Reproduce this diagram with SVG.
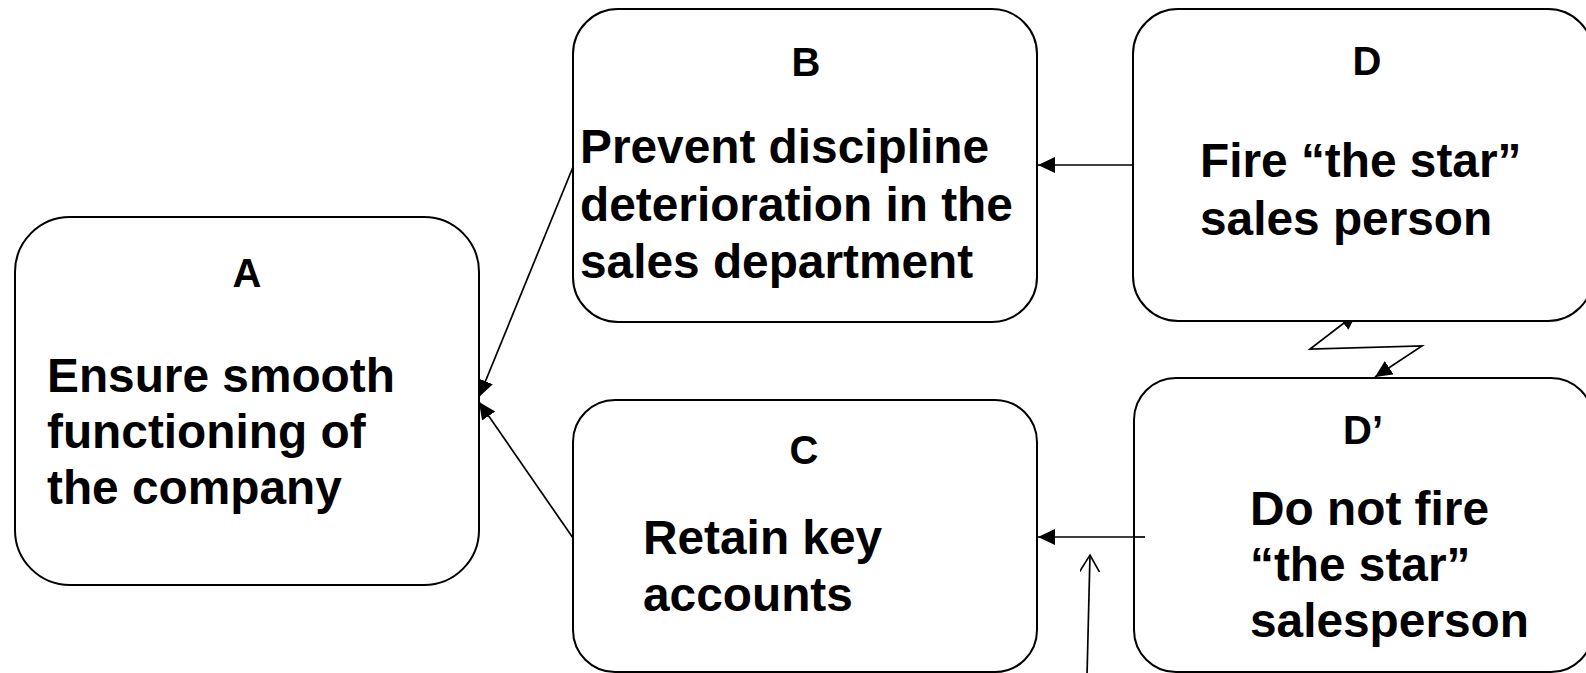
<svg xmlns="http://www.w3.org/2000/svg" width="1586" height="673" viewBox="0 0 1586 673">
<style>
.box{fill:#fff;stroke:#000;stroke-width:2}
.lbl{font-family:"Liberation Sans",Arial,sans-serif;font-weight:bold;font-size:40px;text-anchor:middle;fill:#000}
.txt{font-family:"Liberation Sans",Arial,sans-serif;font-weight:bold;font-size:47.8px;fill:#000}
.con{fill:none;stroke:#000;stroke-width:1.7}
</style>
<defs>
<marker id="ah" markerUnits="userSpaceOnUse" markerWidth="20" markerHeight="18" refX="17" refY="8" orient="auto-start-reverse" viewBox="0 0 20 18">
<path d="M0,0 L17,8 L0,16 z" fill="#000"/>
</marker>
<marker id="open" markerUnits="userSpaceOnUse" markerWidth="20" markerHeight="24" refX="17" refY="10" orient="auto" viewBox="0 0 20 24">
<path d="M0,0 L17,10 L0,20" fill="none" stroke="#000" stroke-width="1.6"/>
</marker>
</defs>
<rect width="1586" height="673" fill="#fff"/>
<g id="connectors">
<line class="con" x1="573" y1="167" x2="479" y2="397" marker-end="url(#ah)"/>
<line class="con" x1="573" y1="538" x2="479" y2="402" marker-end="url(#ah)"/>
<line class="con" x1="1133" y1="165" x2="1038" y2="165" marker-end="url(#ah)"/>
<line class="con" x1="1145" y1="537" x2="1038" y2="537" marker-end="url(#ah)"/>
<path class="con" d="M1357,313 L1310,349 L1422,346 L1375,377" marker-start="url(#ah)" marker-end="url(#ah)"/>
<line class="con" x1="1087" y1="676" x2="1090" y2="555" marker-end="url(#open)"/>
</g>
<g id="nodeA">
<rect class="box" x="15" y="217" width="464" height="368" rx="55" ry="55"/>
<text class="lbl" x="247" y="287">A</text>
<text class="txt" x="47" y="392">Ensure smooth</text>
<text class="txt" x="47" y="448">functioning of</text>
<text class="txt" x="47" y="504">the company</text>
</g>
<g id="nodeB">
<rect class="box" x="573" y="9" width="464" height="313" rx="45" ry="45"/>
<text class="lbl" x="806" y="76">B</text>
<text class="txt" x="580" y="163">Prevent discipline</text>
<text class="txt" x="580" y="221">deterioration in the</text>
<text class="txt" x="580" y="278">sales department</text>
</g>
<g id="nodeD">
<rect class="box" x="1133" y="9" width="460" height="312" rx="45" ry="45"/>
<text class="lbl" x="1367" y="75">D</text>
<text class="txt" x="1200" y="177">Fire “the star”</text>
<text class="txt" x="1200" y="235">sales person</text>
</g>
<g id="nodeC">
<rect class="box" x="573" y="400" width="464" height="272" rx="42" ry="42"/>
<text class="lbl" x="804" y="464">C</text>
<text class="txt" x="643" y="554">Retain key</text>
<text class="txt" x="643" y="611">accounts</text>
</g>
<g id="nodeDp">
<rect class="box" x="1134" y="378" width="459" height="294" rx="42" ry="42"/>
<text class="lbl" x="1363" y="444">D’</text>
<text class="txt" x="1250" y="525">Do not fire</text>
<text class="txt" x="1250" y="581">“the star”</text>
<text class="txt" x="1250" y="637">salesperson</text>
</g>
<line class="con" x1="1134" y1="537" x2="1145" y2="537"/>
</svg>
